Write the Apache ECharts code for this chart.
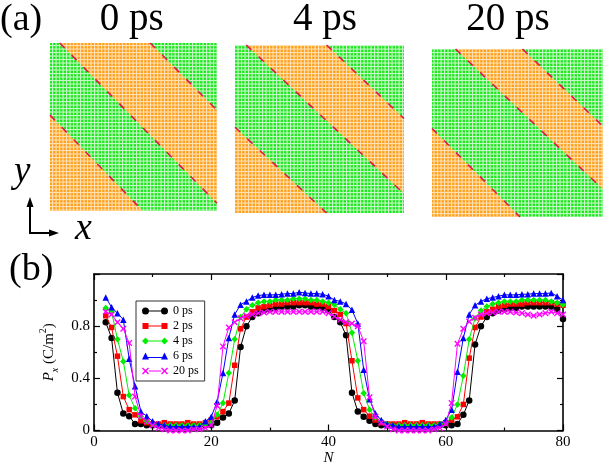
<!DOCTYPE html>
<html>
<head>
<meta charset="utf-8">
<script src="https://cdn.jsdelivr.net/npm/echarts@6.0.0/dist/echarts.min.js"></script>
<style>
  html, body { margin: 0; padding: 0; background: #fff; }
  #main { width: 606px; height: 467px; }
</style>
</head>
<body>
<div id="main"></div>
<script>
// (b) polarisation profile, one value per layer N
var N = [2, 3, 4, 5, 6, 7, 8, 9, 10, 11,
    12, 13, 14, 15, 16, 17, 18, 19, 20, 21,
    22, 23, 24, 25, 26, 27, 28, 29, 30, 31,
    32, 33, 34, 35, 36, 37, 38, 39, 40, 41,
    42, 43, 44, 45, 46, 47, 48, 49, 50, 51,
    52, 53, 54, 55, 56, 57, 58, 59, 60, 61,
    62, 63, 64, 65, 66, 67, 68, 69, 70, 71,
    72, 73, 74, 75, 76, 77, 78, 79, 80];
var px0 = [0.83, 0.71, 0.29, 0.13, 0.11, 0.05, 0.05, 0.04, 0.04, 0.04,
    0.035, 0.04, 0.04, 0.035, 0.04, 0.04, 0.04, 0.04, 0.04, 0.06,
    0.10, 0.13, 0.23, 0.64, 0.80, 0.87, 0.90, 0.92, 0.93, 0.94,
    0.95, 0.95, 0.95, 0.96, 0.96, 0.95, 0.95, 0.94, 0.92, 0.87,
    0.83, 0.73, 0.29, 0.145, 0.105, 0.075, 0.05, 0.04, 0.04, 0.04,
    0.035, 0.04, 0.04, 0.035, 0.04, 0.04, 0.04, 0.04, 0.04, 0.04,
    0.05, 0.12, 0.23, 0.66, 0.80, 0.87, 0.90, 0.92, 0.93, 0.94,
    0.94, 0.95, 0.95, 0.95, 0.95, 0.95, 0.95, 0.93, 0.855];
var px2 = [0.88, 0.79, 0.57, 0.26, 0.16, 0.12, 0.075, 0.06, 0.05, 0.05,
    0.06, 0.05, 0.05, 0.05, 0.06, 0.05, 0.05, 0.06, 0.08, 0.105,
    0.145, 0.21, 0.50, 0.78, 0.87, 0.91, 0.94, 0.95, 0.96, 0.97,
    0.97, 0.98, 0.98, 0.98, 0.98, 0.98, 0.97, 0.97, 0.95, 0.92,
    0.89, 0.82, 0.535, 0.25, 0.16, 0.11, 0.08, 0.06, 0.05, 0.05,
    0.05, 0.06, 0.05, 0.05, 0.06, 0.05, 0.05, 0.05, 0.06, 0.08,
    0.105, 0.20, 0.555, 0.79, 0.87, 0.91, 0.93, 0.95, 0.96, 0.97,
    0.97, 0.97, 0.98, 0.98, 0.98, 0.98, 0.98, 0.97, 0.96];
var px4 = [0.94, 0.91, 0.70, 0.53, 0.27, 0.17, 0.11, 0.07, 0.05, 0.04,
    0.04, 0.04, 0.04, 0.04, 0.04, 0.04, 0.04, 0.05, 0.06, 0.12,
    0.21, 0.44, 0.70, 0.87, 0.93, 0.96, 0.98, 0.99, 0.99, 1.00,
    1.00, 1.00, 1.01, 1.01, 1.01, 1.00, 1.00, 0.99, 0.98, 0.965,
    0.93, 0.90, 0.75, 0.535, 0.285, 0.16, 0.10, 0.07, 0.05, 0.04,
    0.04, 0.04, 0.04, 0.04, 0.04, 0.04, 0.04, 0.05, 0.06, 0.10,
    0.20, 0.42, 0.70, 0.86, 0.92, 0.95, 0.97, 0.98, 0.99, 0.99,
    0.99, 1.00, 1.00, 1.00, 1.00, 1.00, 0.99, 0.98, 0.965];
var px6 = [1.02, 0.945, 0.90, 0.85, 0.55, 0.34, 0.145, 0.11, 0.07, 0.05,
    0.04, 0.03, 0.03, 0.03, 0.03, 0.03, 0.03, 0.07, 0.105, 0.22,
    0.44, 0.71, 0.89, 0.965, 0.99, 1.02, 1.035, 1.04, 1.04, 1.04,
    1.045, 1.05, 1.05, 1.06, 1.055, 1.05, 1.05, 1.045, 1.03, 1.00,
    0.99, 0.97, 0.925, 0.82, 0.465, 0.24, 0.13, 0.08, 0.05, 0.04,
    0.03, 0.03, 0.03, 0.03, 0.03, 0.03, 0.03, 0.05, 0.08, 0.16,
    0.45, 0.71, 0.89, 0.96, 0.99, 1.01, 1.02, 1.03, 1.04, 1.04,
    1.04, 1.045, 1.045, 1.05, 1.05, 1.05, 1.055, 1.03, 1.00];
var px20 = [0.91, 0.89, 0.83, 0.78, 0.67, 0.26, 0.11, 0.07, 0.04, 0.02,
    0.01, 0.0, 0.0, 0.0, 0.0, 0.01, 0.01, 0.02, 0.04, 0.19,
    0.645, 0.79, 0.83, 0.86, 0.88, 0.89, 0.90, 0.905, 0.91, 0.91,
    0.91, 0.91, 0.91, 0.91, 0.91, 0.91, 0.91, 0.91, 0.90, 0.875,
    0.85, 0.83, 0.82, 0.80, 0.685, 0.255, 0.105, 0.06, 0.03, 0.01,
    0.0, 0.0, 0.0, 0.0, 0.0, 0.0, 0.01, 0.02, 0.05, 0.21,
    0.665, 0.78, 0.835, 0.865, 0.89, 0.90, 0.905, 0.91, 0.91, 0.91,
    0.905, 0.90, 0.89, 0.88, 0.89, 0.90, 0.91, 0.90, 0.89];
var seriesNames = ['0 ps', '2 ps', '4 ps', '6 ps', '20 ps'];
var xTicks = [0, 20, 40, 60, 80];
var yTicks = [0, 0.4, 0.8];

// (a) domain snapshots, in lattice units (0..48 each way)
var snapNames = ['0 ps', '4 ps', '20 ps'];
var cell = [[0, 0], [48, 0], [48, 48], [0, 48]];
var orangeBands = [
    [[[2.8, 48], [28.8, 48], [48, 28.8], [48, 2.2]], [[0, 27.4], [26.7, 0], [0, 0]]],
    [[[3.2, 48], [26.0, 48], [48, 27.0], [48, 5.5]], [[0, 24.5], [26.0, 0], [0, 0]]],
    [[[6.6, 48], [25.4, 48], [48, 25.9], [48, 7.9]], [[0, 25.3], [24.7, 0], [0, 0]]]
];
var walls = [
    [[[2.8, 48], [48, 2.2]], [[28.8, 48], [48, 28.8]], [[0, 27.4], [26.7, 0]]],
    [[[3.2, 48], [48, 5.5]], [[26.0, 48], [48, 27.0]], [[0, 24.5], [26.0, 0]]],
    [[[6.6, 48], [48, 7.9]], [[25.4, 48], [48, 25.9]], [[0, 25.3], [24.7, 0]]]
];

var serif = 'Liberation Serif';
var colors = ['#000000', '#ff0000', '#00ee00', '#0000ff', '#ff00ff'];
var crossPath = 'path://M0,1.5L1.5,0L5,3.5L8.5,0L10,1.5L6.5,5L10,8.5L8.5,10L5,6.5L1.5,10L0,8.5L3.5,5Z';
var symbols = ['circle', 'rect', 'diamond', 'triangle', crossPath];
var legendIcons = [
    'path://M0,3.5A3.5,3.5,0,1,1,7,3.5A3.5,3.5,0,1,1,0,3.5ZM7,3h12v1h-12ZM19,3.5A3.5,3.5,0,1,1,26,3.5A3.5,3.5,0,1,1,19,3.5Z',
    'path://M0.5,0.5h6v6h-6ZM6.5,3h13v1h-13ZM19.5,0.5h6v6h-6ZM0,0h0.01v7h-0.01ZM25.99,0h0.01v7h-0.01Z',
    'path://M3.5,0L7,3.5L3.5,7L0,3.5ZM7,3h12v1h-12ZM22.5,0L26,3.5L22.5,7L19,3.5Z',
    'path://M3.5,0L7,7L0,7ZM6,4.5h14v1h-14ZM22.5,0L26,7L19,7Z',
    'path://M0,1L1,0L3.5,2.5L6,0L7,1L4.5,3.5L7,6L6,7L3.5,4.5L1,7L0,6L2.5,3.5ZM7,3h12v1h-12ZM19,1L20,0L22.5,2.5L25,0L26,1L23.5,3.5L26,6L25,7L22.5,4.5L20,7L19,6L21.5,3.5Z'
];

// dotted lattice texture
function dots(dot, bg) {
    var c = document.createElement('canvas');
    c.width = 7;
    c.height = 7;
    var g = c.getContext('2d');
    g.fillStyle = bg;
    g.fillRect(0, 0, 7, 7);
    g.fillStyle = dot;
    g.fillRect(0.6, 0.6, 2.4, 2.4);
    g.fillRect(4.1, 0.6, 2.4, 2.4);
    g.fillRect(0.6, 4.1, 2.4, 2.4);
    g.fillRect(4.1, 4.1, 2.4, 2.4);
    return { image: c, repeat: 'repeat' };
}
var greenFill = dots('#1ee81e', '#c6f7c6');
var orangeFill = dots('#ffa020', '#ffe0b0');

function domainItem(polys, fill) {
    return function (params, api) {
        var pts = polys[params.dataIndex].map(function (p) { return api.coord(p); });
        return { type: 'polygon', shape: { points: pts }, style: { fill: fill } };
    };
}

// big labels as title components (top = middle - size / 2)
function label(text, x, mid, size, align, italic) {
    return {
        text: text, left: x, top: mid - size / 2, textAlign: align, padding: 0
        , textStyle: {
            fontFamily: serif, fontSize: size, lineHeight: size
            , fontWeight: 'normal', fontStyle: italic ? 'italic' : 'normal', color: '#000'
        }
    };
}

var snapBoxes = [
    { left: 50, top: 43, width: 167, height: 168 },
    { left: 235, top: 45, width: 169, height: 168 },
    { left: 432, top: 49, width: 171, height: 168 }
];
var titleX = [131.7, 325, 508];

var myChart = echarts.init(document.getElementById('main'));

var tickLine = { color: '#000', width: 1.2 };
var frameLine = { show: true, onZero: false, lineStyle: { color: '#000', width: 1.6 } };

var option = {
    animation: false
    , backgroundColor: '#fff'
    , textStyle: { fontFamily: serif }
    , title: []
    , grid: [{ left: 94, top: 274, width: 469, height: 156.5 }]
    , xAxis: [
        {
            type: 'value', gridIndex: 0, min: 0, max: 80, interval: 20
            , axisLine: frameLine
            , axisTick: { inside: true, length: 6, lineStyle: tickLine }
            , minorTick: { show: true, splitNumber: 2, length: 3, lineStyle: tickLine }
            , splitLine: { show: false }
            , axisLabel: {
                color: '#000', fontSize: 15, fontFamily: serif, margin: 4
                , formatter: function (v) { return xTicks.indexOf(v) >= 0 ? String(v) : ''; }
            }
            , name: 'N', nameLocation: 'middle', nameGap: 19
            , nameTextStyle: { color: '#000', fontSize: 15, fontStyle: 'italic', fontFamily: serif }
        }
        , {
            type: 'value', gridIndex: 0, min: 0, max: 80, interval: 20, position: 'top'
            , axisLine: frameLine
            , axisTick: { inside: true, length: 6, lineStyle: tickLine }
            , minorTick: { show: true, splitNumber: 2, length: 3, lineStyle: tickLine }
            , splitLine: { show: false }
            , axisLabel: { show: false }
        }
    ]
    , yAxis: [
        {
            type: 'value', gridIndex: 0, min: 0, max: 1.2, interval: 0.4
            , axisLine: frameLine
            , axisTick: { inside: true, length: 6, lineStyle: tickLine }
            , minorTick: { show: true, splitNumber: 2, length: 3, lineStyle: tickLine }
            , splitLine: { show: false }
            , axisLabel: {
                color: '#000', fontSize: 15, fontFamily: serif, margin: 4, showMaxLabel: false
                , formatter: function (v) {
                    for (var i = 0; i < yTicks.length; i++) {
                        if (Math.abs(v - yTicks[i]) < 1e-6) { return yTicks[i] === 0 ? '0' : yTicks[i].toFixed(1); }
                    }
                    return '';
                }
            }
            , name: '{i|P}{s|x}{n| (C/m}{p|2}{n|)}', nameLocation: 'middle', nameGap: 23, nameRotate: 90
            , nameTextStyle: {
                color: '#000', fontSize: 15, fontFamily: serif
                , rich: {
                    i: { fontStyle: 'italic', fontSize: 15, lineHeight: 22, fontFamily: serif, color: '#000' }
                    , s: { fontStyle: 'italic', fontSize: 10, lineHeight: 10, verticalAlign: 'bottom', fontFamily: serif, color: '#000' }
                    , n: { fontSize: 15, lineHeight: 22, fontFamily: serif, color: '#000' }
                    , p: { fontSize: 10, lineHeight: 10, verticalAlign: 'top', fontFamily: serif, color: '#000' }
                }
            }
        }
        , {
            type: 'value', gridIndex: 0, min: 0, max: 1.2, interval: 0.4, position: 'right'
            , axisLine: frameLine
            , axisTick: { inside: true, length: 6, lineStyle: tickLine }
            , minorTick: { show: true, splitNumber: 2, length: 3, lineStyle: tickLine }
            , splitLine: { show: false }
            , axisLabel: { show: false }
        }
    ]
    , legend: {
        left: 136, top: 301, orient: 'vertical'
        , padding: [4, 6, 4, 6], itemGap: 3, itemWidth: 26, itemHeight: 7
        , borderColor: '#333', borderWidth: 1, backgroundColor: '#fff'
        , textStyle: { fontSize: 12, fontFamily: serif, color: '#000', lineHeight: 12 }
        , selectedMode: false
        , data: []
    }
    , graphic: []
    , series: []
};

for (var i = 0; i < seriesNames.length; i++) {
    var vals = [px0, px2, px4, px6, px20][i];
    var pts = [];
    for (var j = 0; j < N.length; j++) {
        pts.push([N[j], vals[j]]);
    }
    option.series.push({
        name: seriesNames[i]
        , type: 'line'
        , xAxisIndex: 0
        , yAxisIndex: 0
        , data: pts
        , symbol: symbols[i]
        , symbolSize: i === 1 ? 5.5 : 6.5
        , showSymbol: true
        , showAllSymbol: true
        , clip: false
        , lineStyle: { color: colors[i], width: 1 }
        , itemStyle: { color: colors[i] }
        , z: 3 + i
    });
    option.legend.data.push({ name: seriesNames[i], icon: legendIcons[i], itemStyle: { color: colors[i] } });
}

// domain snapshots
for (var k = 0; k < snapNames.length; k++) {
    var b = snapBoxes[k];
    option.grid.push({ left: b.left, top: b.top, width: b.width, height: b.height, show: false });
    option.xAxis.push({ type: 'value', gridIndex: k + 1, min: 0, max: 48, show: false });
    option.yAxis.push({ type: 'value', gridIndex: k + 1, min: 0, max: 48, show: false });
    option.series.push({
        type: 'custom', xAxisIndex: k + 2, yAxisIndex: k + 2, silent: true, z: 1
        , renderItem: domainItem([cell], greenFill)
        , data: [cell[0]]
    });
    option.series.push({
        type: 'custom', xAxisIndex: k + 2, yAxisIndex: k + 2, silent: true, z: 2
        , renderItem: domainItem(orangeBands[k], orangeFill)
        , data: orangeBands[k].map(function (p) { return p[0]; })
    });
    for (var w = 0; w < walls[k].length; w++) {
        option.series.push({
            type: 'line', xAxisIndex: k + 2, yAxisIndex: k + 2, silent: true, z: 3
            , data: walls[k][w], symbol: 'none'
            , lineStyle: { color: '#e3174f', width: 1.6, type: [7, 10] }
        });
    }
    option.title.push(label(snapNames[k], titleX[k], 19.5, 39, 'center', false));
}

// panel letters, axis letters and the x-y frame arrows
option.title.push(
    label('(a)', 0, 20.5, 38, 'left', false)
    , label('(b)', 9, 270.5, 38, 'left', false)
    , label('y', 14, 172, 37, 'left', true)
    , label('x', 75, 229, 38, 'left', true)
);
option.graphic.push(
    { type: 'polyline', shape: { points: [[30, 205], [30, 233], [51, 233]] }, style: { stroke: '#000', lineWidth: 2, fill: null } }
    , { type: 'polygon', shape: { points: [[30, 197], [26.5, 207], [33.5, 207]] }, style: { fill: '#000' } }
    , { type: 'polygon', shape: { points: [[59, 233], [49, 229.5], [49, 236.5]] }, style: { fill: '#000' } }
);

myChart.setOption(option);
</script>
</body>
</html>
